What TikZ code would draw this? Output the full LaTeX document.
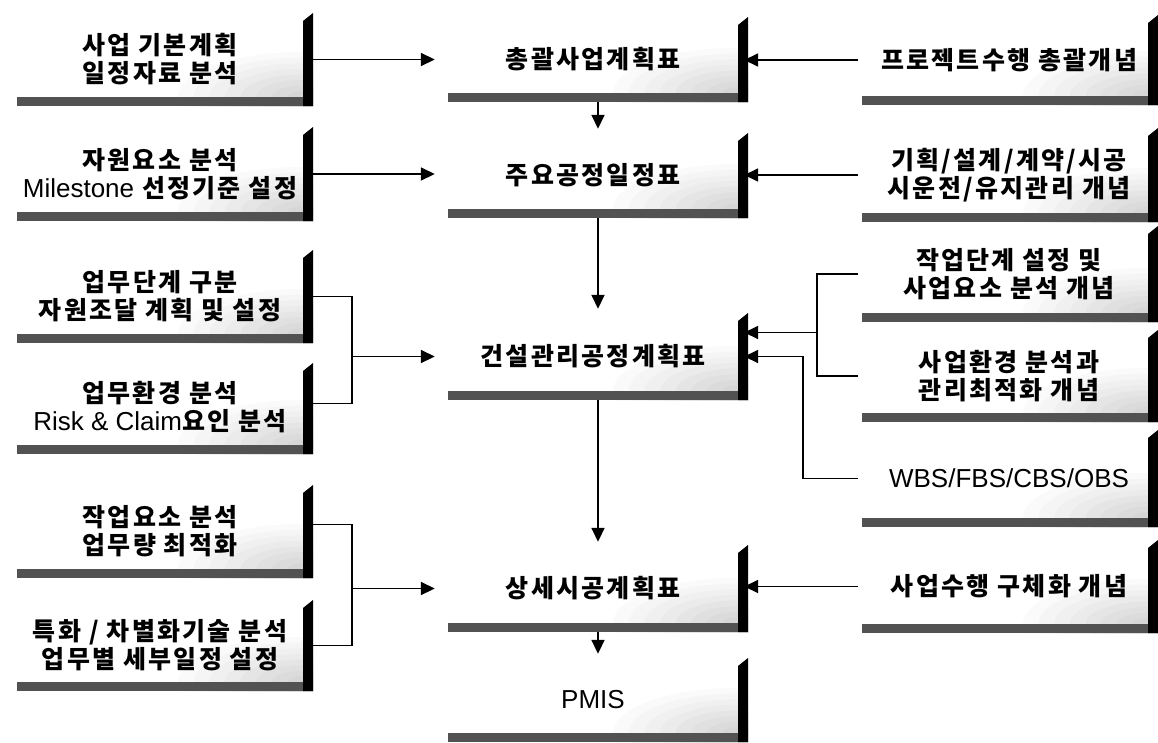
\documentclass[tikz,border=0pt]{standalone}
\usepackage{fontspec}
\usetikzlibrary{arrows.meta}
\newfontfamily\krfont{Noto Sans CJK KR}[LetterSpace=9]
\newfontfamily\latfont{Liberation Sans}
\newcommand\lt[1]{{\latfont\mdseries\fontsize{26}{28}\selectfont #1}}
\tikzset{
  shadowbox/.style={inner sep=0pt,
    path picture={
      \foreach \k in {0,...,7}{
        \pgfmathsetmacro\s{1-\k/8}
        \pgfmathtruncatemacro\c{2+\k*2}
        \fill[black!\c] ([xshift=-10pt,yshift=9pt]path picture bounding box.south east)
          ellipse ({125*\s pt} and {45*\s pt});
      }
      \fill[black!68] (path picture bounding box.south west) rectangle
        ([yshift=9pt]path picture bounding box.south east);
      \fill[black] (path picture bounding box.south east) --
        ([xshift=-10pt]path picture bounding box.south east) --
        ([xshift=-10pt,yshift=-8pt]path picture bounding box.north east) --
        (path picture bounding box.north east) -- cycle;
    }},
  txt/.style={inner sep=0pt, align=center,
    font=\krfont\bfseries\fontsize{25}{28}\selectfont},
  lbox/.style={shadowbox, minimum width=296pt},
  cbox/.style={shadowbox, minimum width=300pt},
  rbox/.style={shadowbox, minimum width=296pt},
  conn/.style={line width=1.7pt},
  arr/.style={conn, -{Triangle[length=14pt,width=13pt]}}
}
\begin{document}
\begin{tikzpicture}[x=1pt, y=-1pt]
\fill[white] (0,0) rectangle (1158,742);
\useasboundingbox (0,0) rectangle (1158,742);
% left column
\node[lbox, minimum height=93pt] (l1) at (165,59.5) {};
\node[lbox, minimum height=94pt] (l2) at (165,174) {};
\node[lbox, minimum height=93pt] (l3) at (165,296.5) {};
\node[lbox, minimum height=91pt] (l4) at (165,408.5) {};
\node[lbox, minimum height=93pt] (l5) at (165,531.5) {};
\node[lbox, minimum height=91pt] (l6) at (165,645.5) {};
\node[txt] (l1t) at ([xshift=-5pt]l1.center) {사업 기본계획\\일정자료 분석};
\node[txt] (l2t) at ([xshift=-5pt]l2.center) {자원요소 분석\\\lt{Milestone} 선정기준 설정};
\node[txt] (l3t) at ([xshift=-5pt]l3.center) {업무단계 구분\\자원조달 계획 및 설정};
\node[txt] (l4t) at ([xshift=-5pt,yshift=1pt]l4.center) {업무환경 분석\\\lt{Risk \& Claim}요인 분석};
\node[txt] (l5t) at ([xshift=-5pt]l5.center) {작업요소 분석\\업무량 최적화};
\node[txt] (l6t) at ([xshift=-5pt]l6.center) {특화 / 차별화기술 분석\\업무별 세부일정 설정};
% centre column
\node[cbox, minimum height=85pt] (c1) at (598,59.5) {};
\node[cbox, minimum height=85pt] (c2) at (598,175.5) {};
\node[cbox, minimum height=87pt] (c3) at (598,356.5) {};
\node[cbox, minimum height=87pt] (c4) at (598,588.5) {};
\node[cbox, minimum height=84pt] (c5) at (598,700) {};
\node[txt] (c1t) at ([xshift=-5pt]c1.center) {총괄사업계획표};
\node[txt] (c2t) at ([xshift=-5pt]c2.center) {주요공정일정표};
\node[txt] (c3t) at ([xshift=-5pt]c3.center) {건설관리공정계획표};
\node[txt] (c4t) at ([xshift=-5pt]c4.center) {상세시공계획표};
\node[txt] (c5t) at ([xshift=-5pt]c5.center) {\lt{PMIS}};
% right column
\node[rbox, minimum height=90pt] (r1) at (1010,60) {};
\node[rbox, minimum height=94pt] (r2) at (1010,175) {};
\node[rbox, minimum height=96pt] (r3) at (1010,274) {};
\node[rbox, minimum height=92pt] (r4) at (1010,376) {};
\node[rbox, minimum height=97pt] (r5) at (1010,478.5) {};
\node[rbox, minimum height=93pt] (r6) at (1010,586.5) {};
\node[txt] (r1t) at ([xshift=-1pt]r1.center) {프로젝트수행 총괄개념};
\node[txt] (r2t) at ([xshift=-1pt]r2.center) {기획/설계/계약/시공\\시운전/유지관리 개념};
\node[txt] (r3t) at ([xshift=-1pt]r3.center) {작업단계 설정 및\\사업요소 분석 개념};
\node[txt] (r4t) at ([xshift=-1pt]r4.center) {사업환경 분석과\\관리최적화 개념};
\node[txt] (r5t) at ([xshift=-1pt]r5.center) {\lt{WBS/FBS/CBS/OBS}};
\node[txt] (r6t) at ([xshift=-1pt]r6.center) {사업수행 구체화 개념};
% vertical flow
\draw[arr, shorten >=4pt] (c1.south) -- (c2.north);
\draw[arr, shorten >=4pt] (c2.south) -- (c3.north);
\draw[arr, shorten >=3pt] (c3.south) -- (c4.north);
\draw[arr, shorten >=4pt] (c4.south) -- (c5.north);
% left inputs
\draw[arr, shorten >=13pt] (l1.east) -- (c1.west);
\draw[arr, shorten >=13pt] (l2.east) -- (c2.west |- l2.east);
\coordinate (jl1) at ([xshift=-96pt]c3.west);
\draw[conn] (l3.east) -| (jl1) |- ([yshift=5pt]l4.east);
\draw[arr, shorten >=13pt] (jl1) -- (c3.west);
\coordinate (jl2) at ([xshift=-96pt]c4.west);
\draw[conn] ([yshift=7pt]l5.east) -| (jl2) |- (l6.east);
\draw[arr, shorten >=13pt] (jl2) -- (c4.west);
% right inputs
\draw[arr, shorten >=-4pt] ([xshift=-4pt]r1.west) -- (c1.east |- r1.west);
\draw[arr, shorten >=-4pt] ([xshift=-4pt]r2.west) -- (c2.east |- r2.west);
\coordinate (jr1) at ([xshift=69pt,yshift=24pt]c3.east);
\draw[conn] ([xshift=-4pt]r3.west) -| (jr1) |- ([xshift=-4pt]r4.west);
\draw[arr, shorten >=-4pt] (jr1) -- (c3.east |- jr1);
\coordinate (jr2) at ([xshift=55pt]c3.east);
\draw[arr, shorten >=-4pt] ([xshift=-4pt]r5.west) -| (jr2) -- (c3.east);
\draw[arr, shorten >=-4pt] ([xshift=-4pt]r6.west) -- (c4.east |- r6.west);
\end{tikzpicture}
\end{document}
